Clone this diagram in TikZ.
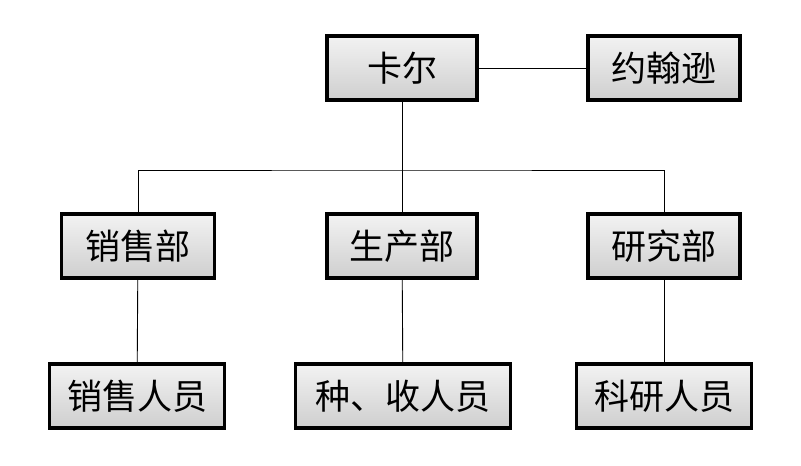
\documentclass[tikz,border=0pt]{standalone}
\usepackage{fontspec}
\newfontfamily\cjk{Noto Sans CJK SC}
\begin{document}
\begin{tikzpicture}[x=1pt,y=-1pt,
  orgbox/.style={draw=black,line width=3.2pt,minimum height=64pt,inner sep=0pt,
    top color=gray!10,middle color=white,bottom color=gray!38,
    font=\cjk\fontsize{35}{38}\selectfont},
  link/.style={draw=black,line width=0.9pt}]
\useasboundingbox[fill=white] (0,0) rectangle (801,466);
\node[orgbox,minimum width=150pt] (karl) at (402,68) {卡尔};
\node[orgbox,minimum width=152pt] (john) at (664,68) {约翰逊};
\node[orgbox,minimum width=153pt] (sales) at (138,246) {销售部};
\node[orgbox,minimum width=150pt] (prod) at (402,246) {生产部};
\node[orgbox,minimum width=152pt] (res) at (664,246) {研究部};
\node[orgbox,minimum width=175pt] (salesp) at (137,396) {销售人员};
\node[orgbox,minimum width=215pt] (prodp) at (403,396) {种、收人员};
\node[orgbox,minimum width=175pt] (resp) at (664,396) {科研人员};
\coordinate (bus) at (402,170);
\draw[link] (karl) -- (john);
\draw[link] (karl) -- (prod);
\draw[link] (sales.north) |- (bus) -| (res.north);
\draw[link] (sales) -- (salesp);
\draw[link] (prod) -- (prodp);
\draw[link] (res) -- (resp);
\end{tikzpicture}
\end{document}
